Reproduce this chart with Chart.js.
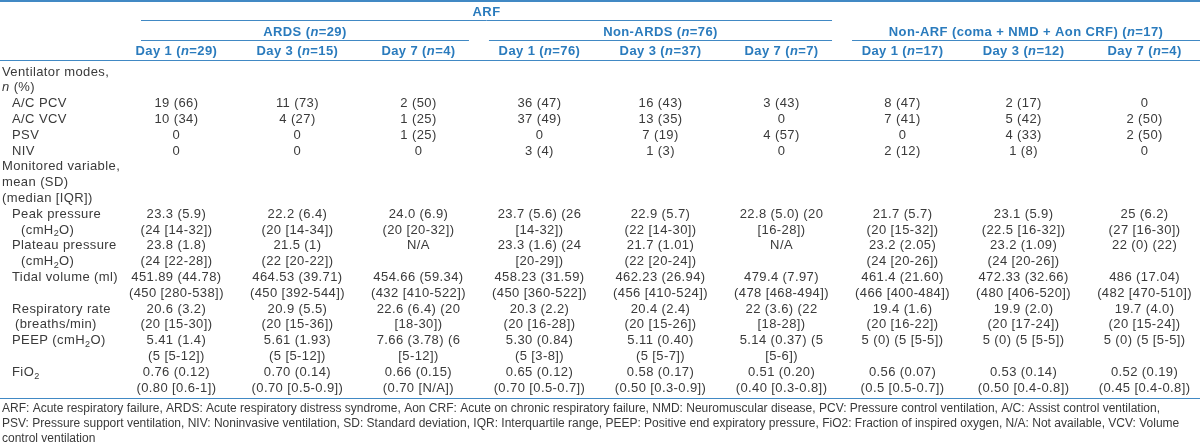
<!DOCTYPE html>
<html>
<head>
<meta charset="utf-8">
<script src="https://cdn.jsdelivr.net/npm/chart.js@4.4.1/dist/chart.umd.min.js"></script>
<style>
  html, body { margin: 0; padding: 0; background: #fff; }
  #wrap { width: 1200px; height: 444px; position: relative; }
</style>
</head>
<body>
<div id="wrap"><canvas id="table"></canvas></div>
<script>
// header: *n* = italic
const topGroup = 'ARF'
const groups = ['ARDS', 'Non-ARDS', 'Non-ARF (coma + NMD + Aon CRF)']
const groupN = [29, 76, 17]
const groupCols = [[0, 2], [3, 5], [6, 8]]
const days = ['Day 1', 'Day 3', 'Day 7', 'Day 1', 'Day 3', 'Day 7', 'Day 1', 'Day 3', 'Day 7']
const dayN = [29, 15, 4, 76, 37, 7, 17, 12, 4]

// stub column, one entry per text line (_2 = subscript)
const rowLabels = [
  'Ventilator modes,', '*n* (%)', 'A/C PCV', 'A/C VCV', 'PSV', 'NIV',
  'Monitored variable,', 'mean (SD)', '(median [IQR])',
  'Peak pressure', '(cmH_2O)', 'Plateau pressure', '(cmH_2O)',
  'Tidal volume (ml)', '', 'Respiratory rate', '(breaths/min)',
  'PEEP (cmH_2O)', '', 'FiO_2', ''
]
const rowLevel = [0, 0, 1, 1, 1, 1, 0, 0, 0, 1, 2, 1, 2, 1, 0, 1, 3, 1, 0, 1, 0]

// body values, one per day column
const acPcv = ['19 (66)', '11 (73)', '2 (50)', '36 (47)', '16 (43)', '3 (43)', '8 (47)', '2 (17)', '0']
const acVcv = ['10 (34)', '4 (27)', '1 (25)', '37 (49)', '13 (35)', '0', '7 (41)', '5 (42)', '2 (50)']
const psv = ['0', '0', '1 (25)', '0', '7 (19)', '4 (57)', '0', '4 (33)', '2 (50)']
const niv = ['0', '0', '0', '3 (4)', '1 (3)', '0', '2 (12)', '1 (8)', '0']
const peakPressure = [
  '23.3 (5.9)\n(24 [14-32])', '22.2 (6.4)\n(20 [14-34])', '24.0 (6.9)\n(20 [20-32])',
  '23.7 (5.6) (26\n[14-32])', '22.9 (5.7)\n(22 [14-30])', '22.8 (5.0) (20\n[16-28])',
  '21.7 (5.7)\n(20 [15-32])', '23.1 (5.9)\n(22.5 [16-32])', '25 (6.2)\n(27 [16-30])'
]
const plateauPressure = [
  '23.8 (1.8)\n(24 [22-28])', '21.5 (1)\n(22 [20-22])', 'N/A',
  '23.3 (1.6) (24\n[20-29])', '21.7 (1.01)\n(22 [20-24])', 'N/A',
  '23.2 (2.05)\n(24 [20-26])', '23.2 (1.09)\n(24 [20-26])', '22 (0) (22)'
]
const tidalVolume = [
  '451.89 (44.78)\n(450 [280-538])', '464.53 (39.71)\n(450 [392-544])', '454.66 (59.34)\n(432 [410-522])',
  '458.23 (31.59)\n(450 [360-522])', '462.23 (26.94)\n(456 [410-524])', '479.4 (7.97)\n(478 [468-494])',
  '461.4 (21.60)\n(466 [400-484])', '472.33 (32.66)\n(480 [406-520])', '486 (17.04)\n(482 [470-510])'
]
const respRate = [
  '20.6 (3.2)\n(20 [15-30])', '20.9 (5.5)\n(20 [15-36])', '22.6 (6.4) (20\n[18-30])',
  '20.3 (2.2)\n(20 [16-28])', '20.4 (2.4)\n(20 [15-26])', '22 (3.6) (22\n[18-28])',
  '19.4 (1.6)\n(20 [16-22])', '19.9 (2.0)\n(20 [17-24])', '19.7 (4.0)\n(20 [15-24])'
]
const peep = [
  '5.41 (1.4)\n(5 [5-12])', '5.61 (1.93)\n(5 [5-12])', '7.66 (3.78) (6\n[5-12])',
  '5.30 (0.84)\n(5 [3-8])', '5.11 (0.40)\n(5 [5-7])', '5.14 (0.37) (5\n[5-6])',
  '5 (0) (5 [5-5])', '5 (0) (5 [5-5])', '5 (0) (5 [5-5])'
]
const fio2 = [
  '0.76 (0.12)\n(0.80 [0.6-1])', '0.70 (0.14)\n(0.70 [0.5-0.9])', '0.66 (0.15)\n(0.70 [N/A])',
  '0.65 (0.12)\n(0.70 [0.5-0.7])', '0.58 (0.17)\n(0.50 [0.3-0.9])', '0.51 (0.20)\n(0.40 [0.3-0.8])',
  '0.56 (0.07)\n(0.5 [0.5-0.7])', '0.53 (0.14)\n(0.50 [0.4-0.8])', '0.52 (0.19)\n(0.45 [0.4-0.8])'
]
// [first text line, values]
const bodyRows = [
  [2, acPcv], [3, acVcv], [4, psv], [5, niv],
  [9, peakPressure], [11, plateauPressure], [13, tidalVolume],
  [15, respRate], [17, peep], [19, fio2]
]

const footnotes = [
  'ARF: Acute respiratory failure, ARDS: Acute respiratory distress syndrome, Aon CRF: Acute on chronic respiratory failure, NMD: Neuromuscular disease, PCV: Pressure control ventilation, A/C: Assist control ventilation,',
  'PSV: Pressure support ventilation, NIV: Noninvasive ventilation, SD: Standard deviation, IQR: Interquartile range, PEEP: Positive end expiratory pressure, FiO2: Fraction of inspired oxygen, N/A: Not available, VCV: Volume',
  'control ventilation'
]

// layout, in text-line units of the y scale
const lines = { top: -4.49, arf: -3.32, group: -2.03, head: -0.73, bottom: 20.66 }
const headAt = { arf: -3.8, group: -2.5, day: -1.3 }
const footAt = [21.33, 22.28, 23.23]
const stubWidth = 141
const indentPx = [0, 10, 19, 13]

const blue = '#2a7bbd'
const rule = '#4189c4'
const ink = '#3a3a3a'
const family = '"Liberation Sans", Arial, Helvetica, sans-serif'

// simple rich text: *x* italic, _x subscript
function parts (str) {
  return str.split(/(\*[^*]+\*|_\d)/).filter(s => s !== '').map(s => {
    if (s[0] === '*') return { t: s.slice(1, -1), italic: true }
    if (s[0] === '_') return { t: s.slice(1), sub: true }
    return { t: s }
  })
}
function fontFor (p, size, bold) {
  return (p.italic ? 'italic ' : '') + (bold ? 'bold ' : '') + (p.sub ? size * 0.7 : size) + 'px ' + family
}
function drawRich (ctx, str, x, y, align, size, bold) {
  const ps = parts(str)
  let w = 0
  ps.forEach(p => { ctx.font = fontFor(p, size, bold); p.w = ctx.measureText(p.t).width; w += p.w })
  let cx = align === 'center' ? x - w / 2 : x
  ps.forEach(p => {
    ctx.font = fontFor(p, size, bold)
    ctx.fillText(p.t, cx, p.sub ? y + size * 0.3 : y)
    cx += p.w
  })
}

const cells = []
bodyRows.forEach(([line, values]) => {
  values.forEach((v, col) => cells.push({ x: col, y: line, text: v }))
})

const tablePlugin = {
  id: 'tablePlugin',
  afterDatasetsDraw (chart) {
    const { ctx, scales: { x, y } } = chart
    const W = chart.width
    const step = y.getPixelForValue(1) - y.getPixelForValue(0)
    ctx.save()
    ctx.textBaseline = 'middle'
    ctx.letterSpacing = '0.4px'

    // rules
    ctx.strokeStyle = rule
    const hline = (x0, x1, v, lw) => {
      const py = Math.round(y.getPixelForValue(v)) + (lw % 2 ? 0.5 : 0)
      ctx.lineWidth = lw
      ctx.beginPath(); ctx.moveTo(x0, py); ctx.lineTo(x1, py); ctx.stroke()
    }
    const span = g => {
      const [c0, c1] = groupCols[g]
      const a = Math.max(x.getPixelForValue(c0 - 0.5) + 10, stubWidth)
      const b = g === groupCols.length - 1 ? W : x.getPixelForValue(c1 + 0.5) - 10
      return [a, b]
    }
    hline(0, W, lines.top, 2)
    hline(span(0)[0], span(1)[1], lines.arf, 1)
    groups.forEach((g, i) => { const [a, b] = span(i); hline(a, b, lines.group, 1) })
    hline(0, W, lines.head, 1)
    hline(0, W, lines.bottom, 1)

    // header text
    ctx.fillStyle = blue
    drawRich(ctx, topGroup, (span(0)[0] + span(1)[1]) / 2, y.getPixelForValue(headAt.arf), 'center', 13, true)
    groups.forEach((g, i) => {
      const [a, b] = span(i)
      drawRich(ctx, g + ' (*n*=' + groupN[i] + ')', (a + b) / 2, y.getPixelForValue(headAt.group), 'center', 13, true)
    })
    days.forEach((d, i) => {
      drawRich(ctx, d + ' (*n*=' + dayN[i] + ')', x.getPixelForValue(i), y.getPixelForValue(headAt.day), 'center', 13, true)
    })

    // stub labels
    ctx.fillStyle = ink
    rowLabels.forEach((lab, i) => {
      if (lab) drawRich(ctx, lab, 2 + indentPx[rowLevel[i]], y.getPixelForValue(i), 'left', 13, false)
    })

    // body cells, placed at their data points
    const meta = chart.getDatasetMeta(0)
    meta.data.forEach((pt, i) => {
      cells[i].text.split('\n').forEach((t, k) => {
        drawRich(ctx, t, pt.x, pt.y + k * step, 'center', 13, false)
      })
    })

    // footnotes
    ctx.letterSpacing = '0px'
    footnotes.forEach((f, i) => drawRich(ctx, f, 2, y.getPixelForValue(footAt[i]), 'left', 12, false))
    ctx.restore()
  }
}

new Chart(document.getElementById('table'), {
  type: 'scatter',
  data: {
    datasets: [{ data: cells, pointRadius: 0, pointHoverRadius: 0 }]
  },
  options: {
    responsive: true,
    maintainAspectRatio: false,
    animation: false,
    layout: { padding: { left: 128, right: 7, top: 0, bottom: 0 } },
    plugins: { legend: { display: false }, tooltip: { enabled: false } },
    events: [],
    scales: {
      x: { type: 'linear', min: -0.4, max: 8.4, display: false },
      y: { type: 'linear', min: -4.557, max: 23.544, reverse: true, display: false }
    }
  },
  plugins: [tablePlugin]
})
</script>
</body>
</html>
